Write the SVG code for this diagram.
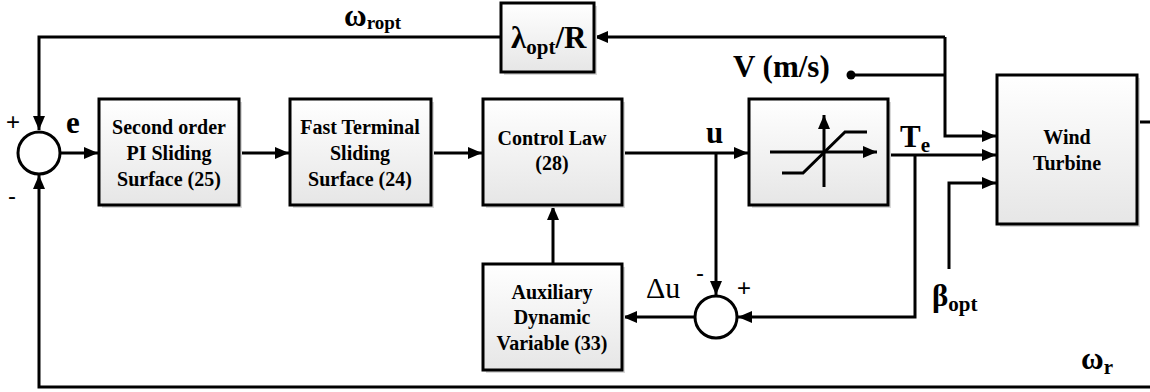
<svg xmlns="http://www.w3.org/2000/svg" width="1150" height="392" viewBox="0 0 1150 392">
<defs>
<linearGradient id="g" x1="0" y1="0" x2="0" y2="1">
<stop offset="0" stop-color="#ffffff"/>
<stop offset="1" stop-color="#e6e6e6"/>
</linearGradient>
<marker id="ah" viewBox="0 0 14 12" refX="14" refY="6" markerWidth="14" markerHeight="12" markerUnits="userSpaceOnUse" orient="auto">
<path d="M0,0 L14,6 L0,12 Z" fill="#000"/>
</marker>
</defs>
<style>
.box{fill:url(#g);stroke:#000;stroke-width:3}
.sh{fill:#d8d8d8}
.ln{fill:none;stroke:#000;stroke-width:3}
.sum{fill:#fff;stroke:#000;stroke-width:3}
.bt{font-family:"Liberation Serif","Times New Roman",serif;font-weight:bold;font-size:20px;text-anchor:middle}
.lb{font-family:"Liberation Serif","Times New Roman",serif;font-weight:bold;font-size:31px}
.sub{font-size:21px}
.sg{font-family:"Liberation Sans",Arial,sans-serif;font-size:24px}
</style>

<g id="connectors">
<polyline class="ln" points="501,37 39,37 39,130" marker-end="url(#ah)"/>
<polyline class="ln" points="945,37 594,37" marker-end="url(#ah)"/>
<polyline class="ln" points="945,37 945,136 996,136" marker-end="url(#ah)"/>
<line class="ln" x1="851" y1="75" x2="945" y2="75"/>
<circle cx="851" cy="75" r="4.5" fill="#000"/>
<line class="ln" x1="60" y1="153" x2="98" y2="153" marker-end="url(#ah)"/>
<line class="ln" x1="239" y1="153" x2="289" y2="153" marker-end="url(#ah)"/>
<line class="ln" x1="431" y1="153" x2="482" y2="153" marker-end="url(#ah)"/>
<line class="ln" x1="622" y1="153" x2="748" y2="153" marker-end="url(#ah)"/>
<line class="ln" x1="716" y1="153" x2="716" y2="295" marker-end="url(#ah)"/>
<line class="ln" x1="888" y1="155" x2="996" y2="155" marker-end="url(#ah)"/>
<polyline class="ln" points="915,155 915,317 738,317" marker-end="url(#ah)"/>
<line class="ln" x1="695" y1="317" x2="623" y2="317" marker-end="url(#ah)"/>
<line class="ln" x1="553" y1="264" x2="553" y2="206" marker-end="url(#ah)"/>
<polyline class="ln" points="949,269 949,183 996,183" marker-end="url(#ah)"/>
<line class="ln" x1="1137" y1="122" x2="1150" y2="122"/>
<polyline class="ln" points="1150,387 39,387 39,175" marker-end="url(#ah)"/>
</g>

<g id="sum1">
<circle class="sum" cx="39" cy="153" r="21"/>
<text class="sg" x="6" y="130">+</text>
<text class="sg" x="8" y="204">-</text>
</g>

<g id="sum2">
<circle class="sum" cx="716" cy="317" r="21"/>
<text class="sg" x="696" y="281">-</text>
<text class="sg" x="737" y="296">+</text>
</g>

<g id="box1">
<rect class="sh" x="102" y="102" width="140" height="106"/>
<rect class="box" x="99" y="99" width="140" height="106"/>
<text class="bt" x="169" y="134">Second order</text>
<text class="bt" x="169" y="160">PI Sliding</text>
<text class="bt" x="169" y="186">Surface (25)</text>
</g>

<g id="box2">
<rect class="sh" x="293" y="102" width="141" height="106"/>
<rect class="box" x="290" y="99" width="141" height="106"/>
<text class="bt" x="360" y="134">Fast Terminal</text>
<text class="bt" x="360" y="160">Sliding</text>
<text class="bt" x="360" y="186">Surface (24)</text>
</g>

<g id="box3">
<rect class="sh" x="486" y="102" width="139" height="106"/>
<rect class="box" x="483" y="99" width="139" height="106"/>
<text class="bt" x="552" y="145">Control Law</text>
<text class="bt" x="552" y="170">(28)</text>
</g>

<g id="saturation">
<rect class="sh" x="752" y="102" width="139" height="106"/>
<rect class="box" x="749" y="99" width="139" height="106"/>
<line class="ln" x1="770" y1="152" x2="877" y2="152" marker-end="url(#ah)"/>
<line class="ln" x1="824" y1="187" x2="824" y2="115" marker-end="url(#ah)"/>
<polyline class="ln" points="782,173 803,173 845,132 867,132"/>
</g>

<g id="windturbine">
<rect class="sh" x="1000" y="78" width="140" height="149"/>
<rect class="box" x="997" y="75" width="140" height="149"/>
<text class="bt" x="1067" y="144">Wind</text>
<text class="bt" x="1067" y="170">Turbine</text>
</g>

<g id="lambda">
<rect class="sh" x="504" y="6" width="93" height="69"/>
<rect class="box" x="501" y="3" width="93" height="69"/>
<text class="lb" x="511" y="48">λ<tspan class="sub" dy="6">opt</tspan><tspan dy="-6">/R</tspan></text>
</g>

<g id="aux">
<rect class="sh" x="486" y="267" width="139" height="106"/>
<rect class="box" x="483" y="264" width="139" height="106"/>
<text class="bt" x="552" y="299">Auxiliary</text>
<text class="bt" x="552" y="324">Dynamic</text>
<text class="bt" x="552" y="350">Variable (33)</text>
</g>

<g id="labels">
<text class="lb" x="344" y="26" font-size="24">ω<tspan font-size="19" dy="3">ropt</tspan></text>
<text class="lb" x="733" y="77">V (m/s)</text>
<text class="lb" x="66" y="133">e</text>
<text class="lb" x="706" y="143">u</text>
<text class="lb" x="900" y="147">T<tspan class="sub" dy="5">e</tspan></text>
<text class="lb" x="932" y="306">β<tspan class="sub" dy="5">opt</tspan></text>
<text class="lb" x="1081" y="369">ω<tspan class="sub" dy="5">r</tspan></text>
<text x="646" y="298" font-family="Liberation Serif, Times New Roman, serif" font-size="30">Δu</text>
</g>
</svg>
